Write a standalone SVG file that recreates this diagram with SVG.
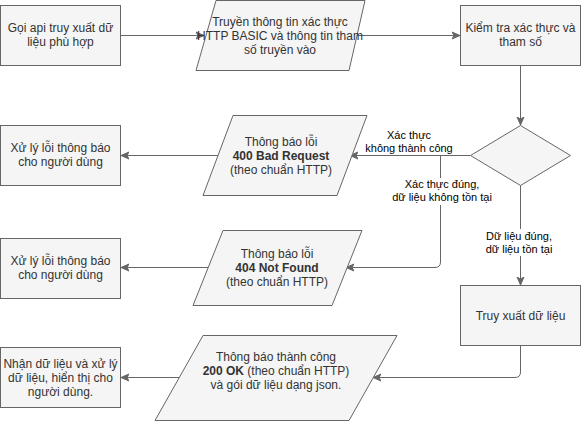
<svg xmlns="http://www.w3.org/2000/svg" width="582" height="422" viewBox="0 0 582 422">
<defs>
<style>
.n{fill:#f5f5f5;stroke:#666666;stroke-width:1}
.t{font-family:"Liberation Sans",Arial,Helvetica,sans-serif;font-size:12px;fill:#333333;text-anchor:middle}
.b{font-weight:bold}
.l{font-family:"Liberation Sans",Arial,Helvetica,sans-serif;font-size:11px;fill:#000000;text-anchor:middle}
.e{fill:none;stroke:#666666;stroke-width:1}
.bg{fill:#ffffff;stroke:none}
</style>
<marker id="ah" markerWidth="10" markerHeight="10" refX="8" refY="5" orient="auto" markerUnits="userSpaceOnUse">
<path d="M0,1.5 L8,5 L0,8.5 L2,5 Z" fill="#666666" stroke="#666666" stroke-width="1"/>
</marker>
</defs>
<rect width="582" height="422" fill="#ffffff"/>

<g id="connectors">
<path class="e" d="M120.5,35.5 L204,35.5" marker-end="url(#ah)"/>
<path class="e" d="M357,35.5 L460,35.5" marker-end="url(#ah)"/>
<path class="e" d="M520.5,65.5 L520.5,125" marker-end="url(#ah)"/>
<path class="e" d="M470,155.5 L350,155.5" marker-end="url(#ah)"/>
<path class="e" d="M440.5,155.5 L440.5,262 Q440.5,267.5 435,267.5 L346,267.5" marker-end="url(#ah)"/>
<path class="e" d="M520.5,185 L520.5,285" marker-end="url(#ah)"/>
<path class="e" d="M520.5,345.5 L520.5,372 Q520.5,377.5 515,377.5 L373,377.5" marker-end="url(#ah)"/>
<path class="e" d="M218,155.5 L121,155.5" marker-end="url(#ah)"/>
<path class="e" d="M208,267.5 L121,267.5" marker-end="url(#ah)"/>
<path class="e" d="M179,377.5 L121,377.5" marker-end="url(#ah)"/>
</g>

<g id="edge-labels">
<rect class="bg" x="366" y="127" width="88" height="27"/>
<text class="l" x="409" y="139">Xác thực</text>
<text class="l" x="409" y="152">không thành công</text>
<rect class="bg" x="392" y="178" width="102" height="27"/>
<text class="l" x="442" y="188">Xác thực đúng,</text>
<text class="l" x="442" y="201">dữ liệu không tồn tại</text>
<rect class="bg" x="484" y="229" width="72" height="27"/>
<text class="l" x="519" y="240">Dữ liệu đúng,</text>
<text class="l" x="519" y="253">dữ liệu tồn tại</text>
</g>

<g id="n-call">
<rect class="n" x="0.5" y="5.5" width="120" height="60"/>
<text class="t" x="60.5" y="32">Gọi api truy xuất dữ</text>
<text class="t" x="60.5" y="46">liệu phù hợp</text>
</g>

<g id="n-send">
<polygon class="n" points="216,0.5 365,0.5 349,70.5 196,70.5"/>
<text class="t" x="280" y="26">Truyền thông tin xác thực</text>
<text class="t" x="280" y="40">HTTP BASIC và thông tin tham</text>
<text class="t" x="280" y="54">số truyền vào</text>
</g>

<g id="n-check">
<rect class="n" x="460.5" y="5.5" width="120" height="60"/>
<text class="t" x="520.5" y="32">Kiểm tra xác thực và</text>
<text class="t" x="520.5" y="46">tham số</text>
</g>

<g id="n-decision">
<polygon class="n" points="520.5,125.5 570.5,155.5 520.5,185.5 470.5,155.5"/>
</g>

<g id="n-400">
<polygon class="n" points="233,115.5 367,115.5 337,195.5 203,195.5"/>
<text class="t" x="281" y="146">Thông báo lỗi</text>
<text class="t b" x="281" y="160">400 Bad Request</text>
<text class="t" x="281" y="174">(theo chuẩn HTTP)</text>
</g>

<g id="n-err1">
<rect class="n" x="0.5" y="125.5" width="120" height="60"/>
<text class="t" x="60.5" y="152">Xử lý lỗi thông báo</text>
<text class="t" x="60.5" y="166">cho người dùng</text>
</g>

<g id="n-404">
<polygon class="n" points="223,230.5 362,230.5 332,305.5 193,305.5"/>
<text class="t" x="277" y="258">Thông báo lỗi</text>
<text class="t b" x="277" y="272">404 Not Found</text>
<text class="t" x="277" y="286">(theo chuẩn HTTP)</text>
</g>

<g id="n-err2">
<rect class="n" x="0.5" y="238.5" width="120" height="60"/>
<text class="t" x="60.5" y="265">Xử lý lỗi thông báo</text>
<text class="t" x="60.5" y="279">cho người dùng</text>
</g>

<g id="n-fetch">
<rect class="n" x="460.5" y="285.5" width="120" height="60"/>
<text class="t" x="520.5" y="320">Truy xuất dữ liệu</text>
</g>

<g id="n-200">
<polygon class="n" points="203,335.5 397,335.5 349,420.5 155,420.5"/>
<text class="t" x="276" y="361">Thông báo thành công</text>
<text class="t" x="276" y="375"><tspan class="b">200 OK</tspan> (theo chuẩn HTTP)</text>
<text class="t" x="276" y="389">và gói dữ liệu dạng json.</text>
</g>

<g id="n-recv">
<rect class="n" x="0.5" y="347.5" width="120" height="60"/>
<text class="t" x="60.5" y="368">Nhận dữ liệu và xử lý</text>
<text class="t" x="60.5" y="382">dữ liệu, hiển thị cho</text>
<text class="t" x="60.5" y="396">người dùng.</text>
</g>
</svg>
